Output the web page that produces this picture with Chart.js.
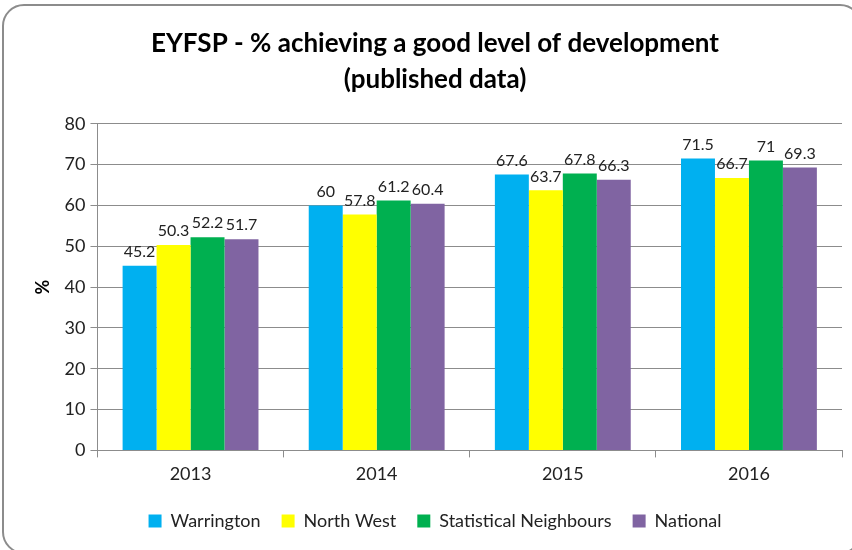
<!DOCTYPE html>
<html>
<head>
<meta charset="utf-8">
<script src="https://cdn.jsdelivr.net/npm/chart.js@4"></script>
<style>
  html, body { margin: 0; padding: 0; background: #fff; overflow: hidden; }
  #frame {
    position: absolute; left: 2px; top: 4px; width: 860px; height: 550px;
    border: 2px solid #8c8c8c; border-radius: 22px; box-sizing: border-box;
  }
  #wrap { position: absolute; left: 0; top: 0; width: 852px; height: 550px; }
</style>
</head>
<body>
<div id="frame"></div>
<div id="wrap"><canvas id="chart" width="852" height="550"></canvas></div>
<script>
const years = ["2013", "2014", "2015", "2016"];
const warrington = [45.2, 60, 67.6, 71.5];
const northWest = [50.3, 57.8, 63.7, 66.7];
const statNeighbours = [52.2, 61.2, 67.8, 71];
const national = [51.7, 60.4, 66.3, 69.3];
const yTicks = [0, 10, 20, 30, 40, 50, 60, 70, 80];

const FONT = "Lato, 'Open Sans', sans-serif";

// value labels above each bar
const barLabels = {
  id: "barLabels",
  afterDatasetsDraw(chart) {
    const ctx = chart.ctx;
    ctx.save();
    ctx.font = "16px " + FONT;
    ctx.fillStyle = "#222";
    ctx.textAlign = "center";
    ctx.textBaseline = "bottom";
    chart.data.datasets.forEach((ds, i) => {
      chart.getDatasetMeta(i).data.forEach((bar, j) => {
        ctx.fillText(String(ds.data[j]), bar.x, bar.y - 6);
      });
    });
    ctx.restore();
  },
};

const mk = (label, data, color) => ({
  label, data, backgroundColor: color, borderWidth: 0,
});

new Chart(document.getElementById("chart"), {
  type: "bar",
  data: {
    labels: years,
    datasets: [
      mk("Warrington", warrington, "#00B0F0"),
      mk("North West", northWest, "#FFFF00"),
      mk("Statistical Neighbours", statNeighbours, "#00B050"),
      mk("National", national, "#8064A2"),
    ],
  },
  options: {
    responsive: false,
    animation: false,
    devicePixelRatio: 1,
    categoryPercentage: 0.73,
    barPercentage: 1,
    layout: { padding: { left: 28, right: 10, top: 25, bottom: 10 } },
    plugins: {
      title: {
        display: true,
        text: ["EYFSP - % achieving a good level of development", "(published data)"],
        font: { family: FONT, size: 26, weight: "bold", lineHeight: 1.4 },
        color: "#000",
        padding: { top: 0, bottom: 26 },
      },
      legend: {
        position: "bottom",
        labels: {
          font: { family: FONT, size: 18 },
          color: "#222",
          boxWidth: 13,
          boxHeight: 13,
          padding: 21,
        },
      },
      tooltip: { enabled: false },
    },
    scales: {
      x: {
        grid: {
          drawOnChartArea: false,
          color: "#8c8c8c",
          tickLength: 7,
          offset: true,
        },
        border: { color: "#8c8c8c", width: 1 },
        ticks: { font: { family: FONT, size: 18 }, color: "#222", padding: 6 },
      },
      y: {
        min: 0,
        max: 80,
        afterBuildTicks: (axis) => { axis.ticks = yTicks.map((v) => ({ value: v })); },
        grid: { color: "#8c8c8c", tickLength: 7 },
        border: { color: "#8c8c8c", width: 1 },
        ticks: { font: { family: FONT, size: 18 }, color: "#222", padding: 5 },
        title: {
          display: true,
          text: "%",
          font: { family: FONT, size: 18, weight: "bold" },
          color: "#000",
          padding: { bottom: 6 },
        },
      },
    },
  },
  plugins: [barLabels],
});
</script>
</body>
</html>
